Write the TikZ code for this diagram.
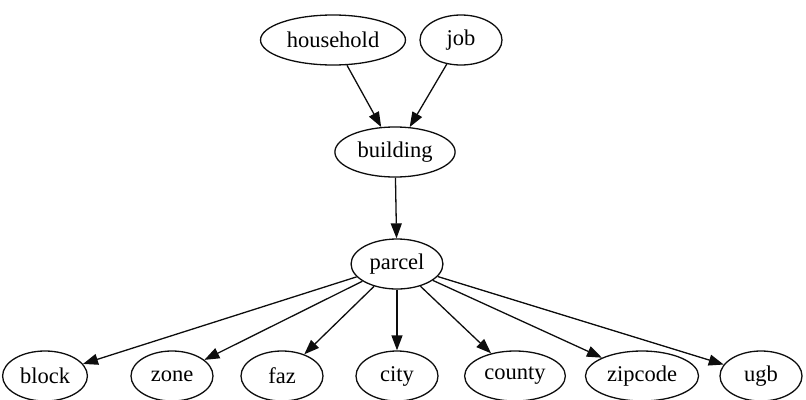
\documentclass[tikz,border=0pt]{standalone}
\usepackage{fontspec}
\setmainfont{Liberation Serif}
\usepackage{tikz}
\usetikzlibrary{arrows.meta, shapes.geometric}
\definecolor{mainBlack}{gray}{0.05}

\tikzset{
    tbl/.style={ellipse, draw=mainBlack, line width=1.3pt, inner xsep=5pt, inner ysep=2pt,
        minimum width=82pt, minimum height=50pt, font=\fontsize{22.5}{26}\selectfont},
    dep/.style={-{Triangle[length=15pt,width=11pt]}, line width=1.3pt, mainBlack}
}

\begin{document}
\begin{tikzpicture}[x=1pt, y=-1pt]
        \useasboundingbox (0,0) rectangle (806,399);
        % 上段
        \node[tbl] (household) at (333,40) {household};
        \node[tbl] (job) at (461,40) {job};
        \node[tbl] (building) at (395,152) {building};
        \node[tbl] (parcel) at (397,264) {parcel};
        
        % 下段
        \node[tbl] (block) at (45,376) {block};
        \node[tbl] (zone) at (172,376) {zone};
        \node[tbl] (faz) at (282,376) {faz};
        \node[tbl] (city) at (397,376) {city};
        \node[tbl] (county) at (515,376) {county};
        \node[tbl] (zipcode) at (642,376) {zipcode};
        \node[tbl] (ugb) at (761,376) {ugb};
        
        \draw[dep] (household) -- (building);
        \draw[dep] (job) -- (building);
        \draw[dep] (building) -- (parcel);
        
        % parcel から各テーブルへ
        \foreach \t in {block, zone, faz, city, county, zipcode, ugb}
            \draw[dep] (parcel) -- (\t);
    \end{tikzpicture}
\end{document}
